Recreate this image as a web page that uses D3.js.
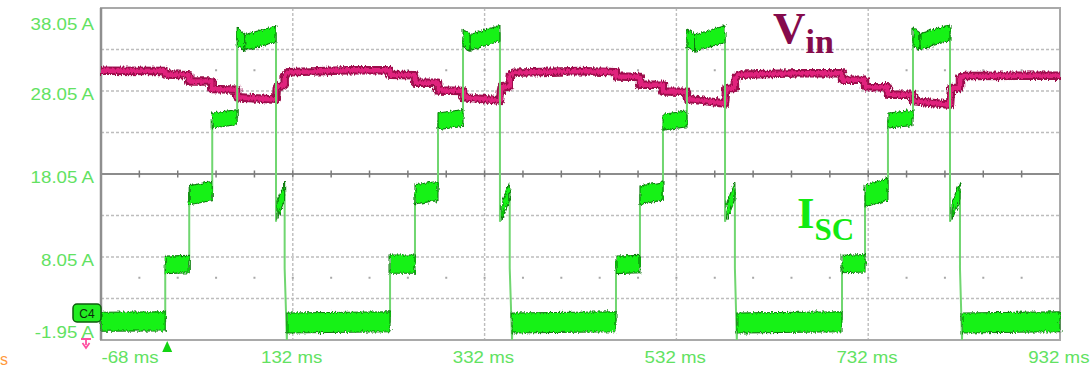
<!DOCTYPE html>
<html>
<head>
<meta charset="utf-8">
<script src="https://cdn.jsdelivr.net/npm/d3@7"></script>
<style>
  html, body { margin: 0; background: #fff; }
  svg { display: block; }
</style>
</head>
<body>
<svg id="scope" width="1091" height="368"></svg>
<script>
// Horizontal axis labels (ms) and vertical axis labels (A)
const timeTicks = [-68, 132, 332, 532, 732, 932];
const ampTicks = [38.05, 28.05, 18.05, 8.05, -1.95];

// I_SC plateaus, one row per switching cycle:
// [start ms, end ms, mean at start (A), mean at end (A), half spread (A)]
const iscBase = [
  [-68, -1, 0.25, 0.3, 1.15],
  [125.8, 233.4, 0.1, 0.25, 1.2],
  [360.6, 469, 0.1, 0.25, 1.2],
  [595, 704.7, 0.1, 0.25, 1.2],
  [829.8, 932, 0.1, 0.25, 1.2]
];
const iscStep1 = [
  [-1, 24, 7.1, 7.2, 1.05],
  [233.4, 259.4, 7.2, 7.2, 1.1],
  [469, 494, 7.1, 7.2, 1.05],
  [704.7, 728.7, 7.2, 7.3, 1.05]
];
const iscStep2 = [
  [24, 48, 15.5, 16.0, 1.15],
  [259.4, 283.4, 15.6, 16.0, 1.15],
  [494, 518, 15.5, 16.0, 1.1],
  [728.7, 752.6, 15.4, 16.2, 1.3]
];
const iscStep3 = [
  [48, 74, 24.5, 24.9, 0.9],
  [283.4, 309.5, 24.4, 24.8, 1.0],
  [518, 543, 24.3, 24.7, 0.95],
  [752.6, 778.7, 24.5, 24.8, 0.9]
];
const iscPeakDip = [
  [74, 82, 34.6, 33.9, 1.05],
  [309.5, 317, 34.5, 33.9, 1.05],
  [543, 551, 34.4, 33.8, 1.05],
  [778.7, 786, 34.6, 34.0, 1.05]
];
const iscPeak = [
  [82, 114.5, 33.9, 34.9, 0.95],
  [317, 348, 33.9, 35.0, 0.95],
  [551, 582.7, 33.8, 34.9, 1.0],
  [786, 817.3, 34.0, 35.1, 0.95]
];
const iscPulse = [
  [115.5, 123.5, 13.6, 16.0, 1.05],
  [350, 358.2, 13.6, 16.0, 1.05],
  [584.8, 593, 13.6, 16.0, 1.05],
  [819.4, 827.7, 13.6, 16.0, 1.05]
];

// I_SC trace through the edges: [ms, A]
const iscTrace = [
  [-68, 0.3], [-1, 0.3],
  [-1, 7.1], [24, 7.2], [24, 15.5], [48, 16.0], [48, 24.5], [74, 24.9], [74, 34.6], [114.5, 34.9],
  [114.5, 12.3], [115.5, 13.6], [123.5, 16.3], [123.5, 6.7], [125.8, -1.95], [126.3, 0.1], [233.4, 0.25],
  [233.4, 7.2], [259.4, 7.2], [259.4, 15.6], [283.4, 16.0], [283.4, 24.4], [309.5, 24.8], [309.5, 34.5], [348, 35.0],
  [348, 12.3], [350, 13.6], [358.2, 16.3], [358.2, 6.7], [360.6, -1.95], [361.1, 0.1], [469, 0.25],
  [469, 7.1], [494, 7.2], [494, 15.5], [518, 16.0], [518, 24.3], [543, 24.7], [543, 34.4], [582.7, 34.9],
  [582.7, 12.3], [584.8, 13.6], [593, 16.3], [593, 6.7], [595, -1.95], [595.5, 0.1], [704.7, 0.25],
  [704.7, 7.2], [728.7, 7.3], [728.7, 15.4], [752.6, 16.2], [752.6, 24.5], [778.7, 24.8], [778.7, 34.6], [817.3, 35.1],
  [817.3, 12.3], [819.4, 13.6], [827.7, 16.3], [827.7, 6.7], [829.8, -1.95], [830.3, 0.1], [932, 0.25]
];

// V_in trace, on the same screen divisions: [ms, display units]
const vinTrace = [
  [-68, 30.5], [-1, 30.45],
  [-1, 30.05], [24, 29.95], [24, 29.2], [48, 29.2], [48, 28.3], [74, 28.2], [74, 27.3], [114.5, 27.0],
  [115.5, 28.6], [123.5, 28.8], [123.5, 29.8], [127, 30.3], [190, 30.55], [233.4, 30.55],
  [233.4, 30.0], [259.4, 29.95], [259.4, 29.05], [283.4, 29.05], [283.4, 28.1], [309.5, 28.05], [309.5, 27.3], [348, 26.9],
  [349.5, 28.5], [358.2, 28.6], [358.2, 29.9], [362, 30.25], [430, 30.45], [469, 30.3],
  [469, 29.8], [494, 29.75], [494, 28.8], [518, 28.8], [518, 28.0], [543, 27.95], [543, 27.1], [582.7, 26.55],
  [584, 28.4], [593, 28.4], [593, 29.6], [597, 30.0], [660, 30.2], [704.7, 30.2],
  [704.7, 29.4], [728.7, 29.4], [728.7, 28.5], [752.6, 28.5], [752.6, 27.6], [778.7, 27.6], [778.7, 26.85], [817.3, 26.4],
  [818.5, 28.4], [827.7, 28.4], [827.7, 29.6], [832, 29.85], [932, 29.9]
];

const svg = d3.select("#scope");
const x = d3.scaleLinear()
  .domain([timeTicks[0], timeTicks[timeTicks.length - 1]])
  .range([101, 1060]);
const y = d3.scaleLinear()
  .domain([ampTicks[ampTicks.length - 1], ampTicks[0]])
  .range([340, 8]);

// ragged edges of the sampled traces
const defs = svg.append("defs");
const grain = defs.append("filter").attr("id", "grain")
  .attr("filterUnits", "userSpaceOnUse")
  .attr("x", 0).attr("y", 0).attr("width", 1091).attr("height", 368);
grain.append("feTurbulence").attr("type", "fractalNoise")
  .attr("baseFrequency", "0.6 0.15").attr("numOctaves", 2).attr("seed", 7).attr("result", "noise");
grain.append("feDisplacementMap").attr("in", "SourceGraphic").attr("in2", "noise")
  .attr("scale", 5).attr("xChannelSelector", "R").attr("yChannelSelector", "G");

// ---- graticule ----
const grid = svg.append("g");
const [yLo, yHi] = y.domain();
const yMid = (yLo + yHi) / 2;
const divLevels = d3.range(1, 8).map(k => yLo + 5 * k);
grid.selectAll("line.h")
  .data(divLevels.filter(v => Math.abs(v - yMid) > 1e-6))
  .join("line")
  .attr("x1", x.range()[0]).attr("x2", x.range()[1])
  .attr("y1", d => y(d)).attr("y2", d => y(d))
  .attr("stroke", "#bdbdbd").attr("stroke-width", 1.6).attr("stroke-dasharray", "3,2");
grid.selectAll("line.v")
  .data(timeTicks.slice(1, -1))
  .join("line")
  .attr("x1", d => x(d)).attr("x2", d => x(d))
  .attr("y1", y.range()[1]).attr("y2", y.range()[0])
  .attr("stroke", "#bdbdbd").attr("stroke-width", 1.4).attr("stroke-dasharray", "3,2");
// centre line with minor ticks
grid.append("line")
  .attr("x1", x.range()[0]).attr("x2", x.range()[1])
  .attr("y1", y(yMid)).attr("y2", y(yMid))
  .attr("stroke", "#8c8c8c").attr("stroke-width", 2);
const minor = d3.range(timeTicks[0] + 40, timeTicks[timeTicks.length - 1], 40);
grid.selectAll("line.t")
  .data(minor)
  .join("line")
  .attr("x1", d => x(d)).attr("x2", d => x(d))
  .attr("y1", y(yMid) - 3.5).attr("y2", y(yMid) + 3.5)
  .attr("stroke", "#7a7a7a").attr("stroke-width", 1.5);
// dots halfway between divisions
[yHi - 7.5, yLo + 7.5].forEach(v => {
  grid.selectAll(null)
    .data(minor)
    .join("rect")
    .attr("x", d => x(d) - 1).attr("y", y(v) - 1)
    .attr("width", 2).attr("height", 2)
    .attr("fill", "#a8a8a8");
});
// frame
svg.append("rect")
  .attr("x", x.range()[0]).attr("y", y.range()[1])
  .attr("width", x.range()[1] - x.range()[0]).attr("height", y.range()[0] - y.range()[1])
  .attr("fill", "none").attr("stroke", "#a9a9a9").attr("stroke-width", 2);
svg.append("line")
  .attr("x1", x.range()[0]).attr("x2", x.range()[0])
  .attr("y1", y.range()[1]).attr("y2", y.range()[0])
  .attr("stroke", "#8f8f8f").attr("stroke-width", 2.5);

// ---- V_in ----
const line = d3.line().x(d => x(d[0])).y(d => y(d[1]));
const vinG = svg.append("g").attr("filter", "url(#grain)");
vinG.append("path").attr("d", line(vinTrace))
  .attr("fill", "none").attr("stroke", "#9b0d4b").attr("stroke-width", 8.5)
  .attr("stroke-linejoin", "round");
vinG.append("path").attr("d", line(vinTrace))
  .attr("fill", "none").attr("stroke", "#e0237d").attr("stroke-width", 4.5)
  .attr("stroke-linejoin", "round");

// ---- I_SC ----
svg.append("path").attr("d", line(iscTrace))
  .attr("fill", "none").attr("stroke", "#70d670").attr("stroke-width", 2);
const band = d3.area()
  .x(d => x(d[0]))
  .y0(d => y(d[1] - d[2]))
  .y1(d => y(d[1] + d[2]));
const bandRows = [].concat(iscBase, iscStep1, iscStep2, iscStep3, iscPeakDip, iscPeak, iscPulse);
svg.append("g").attr("filter", "url(#grain)")
  .selectAll("path")
  .data(bandRows)
  .join("path")
  .attr("d", r => band([[r[0], r[2], r[4]], [r[1], r[3], r[4]]]))
  .attr("fill", "#14f214").attr("stroke", "#0f7a0f").attr("stroke-width", 1.1);

// ---- axes ----
const labelColor = "#62e262";
const yAxis = d3.axisLeft(y).tickValues(ampTicks)
  .tickFormat(d => d.toFixed(2) + " A").tickSize(0).tickPadding(0);
const yG = svg.append("g").attr("transform", "translate(94,0)").call(yAxis);
yG.select(".domain").remove();
yG.selectAll("text")
  .attr("fill", labelColor)
  .style("font-family", "'Liberation Sans', Arial, sans-serif")
  .style("font-size", "17px")
  .attr("dy", null)
  .attr("x", 0)
  .attr("y", (d, i) => i === 0 ? 21.5 : (i === ampTicks.length - 1 ? -3 : 8.5))
  .attr("transform", "scale(1.1,1)");

const xAxis = d3.axisBottom(x).tickValues(timeTicks)
  .tickFormat(d => d + " ms").tickSize(0).tickPadding(0);
const xG = svg.append("g").attr("transform", `translate(0,${y.range()[0]})`).call(xAxis);
xG.select(".domain").remove();
xG.selectAll("text")
  .attr("fill", labelColor)
  .style("font-family", "'Liberation Sans', Arial, sans-serif")
  .style("font-size", "17px")
  .attr("dy", null)
  .attr("y", 23)
  .attr("x", (d, i) => i === 0 ? 0 : -1.5)
  .attr("text-anchor", (d, i) => i === 0 ? "start" : "middle")
  .attr("transform", "scale(1.1,1)");

// trigger marker
svg.append("path")
  .attr("d", `M${x(0) + 1},341 L${x(0) - 4},352 L${x(0) + 6},352 Z`)
  .attr("fill", "#12d412");

// channel badge
const badge = svg.append("g").attr("transform", "translate(73,304)");
badge.append("rect").attr("width", 28).attr("height", 18).attr("rx", 4)
  .attr("fill", "#22ee22").attr("stroke", "#0c5c0c").attr("stroke-width", 1.5);
badge.append("text").attr("x", 14).attr("y", 13.5).attr("text-anchor", "middle")
  .style("font-family", "'Liberation Sans', Arial, sans-serif").style("font-size", "12px")
  .attr("fill", "#0b2a0b").text("C4");

// channel offset marker
svg.append("path")
  .attr("d", "M81,339 L91,339 M86,339 L86,345 M82.5,343 L86,348 L89.5,343")
  .attr("fill", "none").attr("stroke", "#ff4fa0").attr("stroke-width", 1.8);
svg.append("text").attr("x", 0).attr("y", 365).attr("text-anchor", "start")
  .style("font-family", "'Liberation Sans', Arial, sans-serif").style("font-size", "16px")
  .attr("fill", "#ff9a3c").text("s");

// trace names
const vinLabel = svg.append("text").attr("x", 773).attr("y", 43)
  .style("font-family", "'Liberation Serif', 'Times New Roman', serif")
  .style("font-weight", "bold").attr("fill", "#850b4c");
vinLabel.append("tspan").style("font-size", "45px").text("V");
vinLabel.append("tspan").style("font-size", "34px").attr("dy", 10).text("in");

const iscLabel = svg.append("text").attr("x", 797).attr("y", 228)
  .style("font-family", "'Liberation Serif', 'Times New Roman', serif")
  .style("font-weight", "bold").attr("fill", "#12ea12");
iscLabel.append("tspan").style("font-size", "45px").text("I");
iscLabel.append("tspan").style("font-size", "31px").attr("dy", 12).text("SC");
</script>
</body>
</html>
